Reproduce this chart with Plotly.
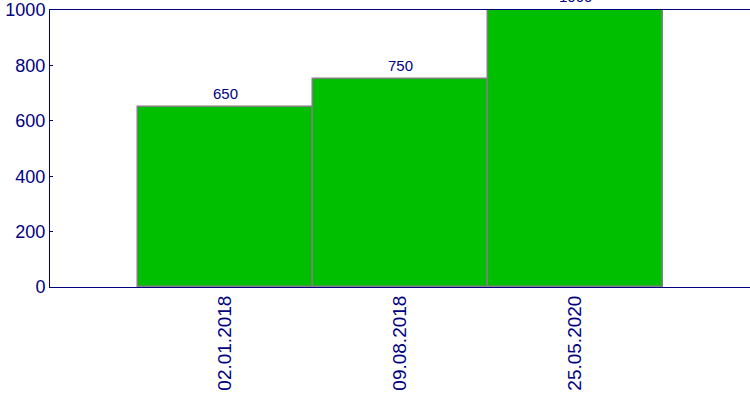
import plotly.graph_objects as go

dates = ["02.01.2018", "09.08.2018", "25.05.2020"]
values = [650, 750, 1000]

navy = "#000080"
fig = go.Figure(go.Bar(
    x=dates, y=values,
    marker=dict(color="#00BF00", line=dict(color="#808080", width=1.5)),
))
for d, v in zip(dates, values):
    fig.add_annotation(
        x=d, y=v, text=str(v), showarrow=False, yanchor="bottom", yshift=3,
        font=dict(color=navy, size=15, family="Liberation Sans, Arial"),
    )
fig.update_layout(
    width=750, height=400,
    margin=dict(l=50, r=0, t=10, b=113),
    paper_bgcolor="white", plot_bgcolor="white",
    bargap=0, showlegend=False,
    font=dict(family="Liberation Sans, Arial", color=navy),
)
fig.update_xaxes(
    type="category", range=[-1, 3], tickangle=-90,
    tickfont=dict(size=19, color=navy), showline=True, linecolor=navy,
    linewidth=1, mirror=True, ticks="", showgrid=False,
)
fig.update_yaxes(
    range=[0, 1000], tickvals=[0, 200, 400, 600, 800, 1000],
    tickfont=dict(size=18, color=navy), showline=True, linecolor=navy,
    linewidth=1, mirror=True, ticks="inside", ticklen=3, tickcolor=navy,
    showgrid=False, zeroline=False,
)
fig.write_html("out.html")
